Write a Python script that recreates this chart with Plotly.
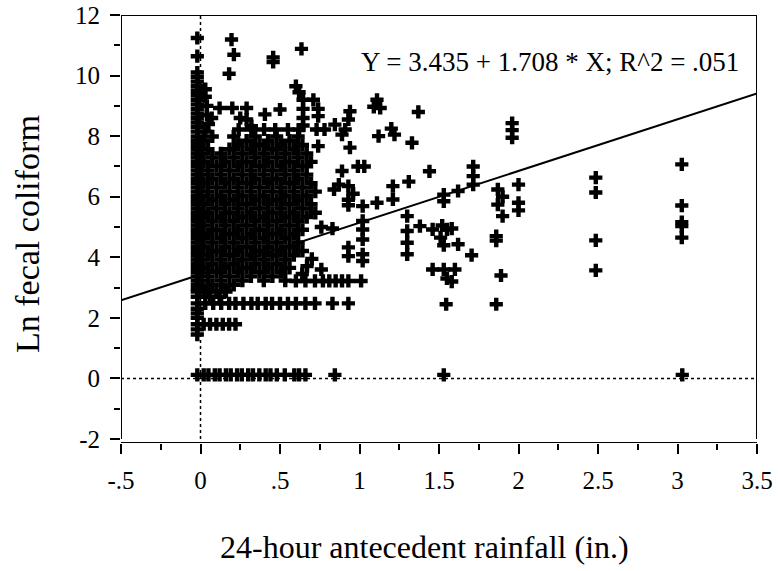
import plotly.graph_objects as go

# ---------------- data ----------------
eq_intercept = 3.435
eq_slope = 1.708
eq_text = "Y = 3.435 + 1.708 * X; R^2 = .051"

x_tick_vals = [-0.5, 0, 0.5, 1, 1.5, 2, 2.5, 3, 3.5]
x_tick_text = ["-.5", "0", ".5", "1", "1.5", "2", "2.5", "3", "3.5"]
x_minor_vals = [-0.25, 0.25, 0.75, 1.25, 1.75, 2.25, 2.75, 3.25]
y_tick_vals = [-2, 0, 2, 4, 6, 8, 10, 12]
y_tick_text = ["-2", "0", "2", "4", "6", "8", "10", "12"]
y_minor_vals = [-1, 1, 3, 5, 7, 9, 11]

# dense block of low-rainfall samples: one Ln value per row, rainfall values per row
core_ln = [2.95, 3.09, 3.23, 3.37, 3.51, 3.65, 3.79, 3.93, 4.07, 4.21, 4.35, 4.49,
           4.63, 4.77, 4.91, 5.05, 5.19, 5.33, 5.47, 5.61, 5.75, 5.89, 6.03, 6.17,
           6.31, 6.45, 6.59, 6.73, 6.87, 7.01, 7.15, 7.29, 7.43, 7.57, 7.71, 7.85, 7.99]
core_rain = [
    [-0.02, 0.02, 0.155],
    [-0.02, 0.074, 0.209],
    [-0.02, 0.0, 0.128, 0.263, 0.398, 0.533],
    [-0.02, 0.047, 0.182, 0.317, 0.452],
    [-0.02, 0.101, 0.236, 0.371, 0.506],
    [-0.02, 0.02, 0.155, 0.29, 0.425, 0.56],
    [-0.02, 0.074, 0.209, 0.344, 0.479],
    [-0.02, 0.0, 0.128, 0.263, 0.398, 0.533],
    [-0.02, 0.047, 0.182, 0.317, 0.452, 0.587],
    [-0.02, 0.101, 0.236, 0.371, 0.506, 0.641],
    [-0.02, 0.02, 0.155, 0.29, 0.425, 0.56],
    [-0.02, 0.074, 0.209, 0.344, 0.479, 0.614],
    [-0.02, 0.0, 0.128, 0.263, 0.398, 0.533],
    [-0.02, 0.047, 0.182, 0.317, 0.452, 0.587],
    [-0.02, 0.101, 0.236, 0.371, 0.506, 0.641],
    [-0.02, 0.02, 0.155, 0.29, 0.425, 0.56],
    [-0.02, 0.074, 0.209, 0.344, 0.479, 0.614],
    [-0.02, 0.0, 0.128, 0.263, 0.398, 0.533, 0.668],
    [-0.02, 0.047, 0.182, 0.317, 0.452, 0.587, 0.722],
    [-0.02, 0.101, 0.236, 0.371, 0.506, 0.641],
    [-0.02, 0.02, 0.155, 0.29, 0.425, 0.56, 0.695],
    [-0.02, 0.074, 0.209, 0.344, 0.479, 0.614],
    [-0.02, 0.0, 0.128, 0.263, 0.398, 0.533, 0.668],
    [-0.02, 0.047, 0.182, 0.317, 0.452, 0.587, 0.722],
    [-0.02, 0.101, 0.236, 0.371, 0.506, 0.641],
    [-0.02, 0.02, 0.155, 0.29, 0.425, 0.56, 0.695],
    [-0.02, 0.074, 0.209, 0.344, 0.479, 0.614],
    [-0.02, 0.0, 0.128, 0.263, 0.398, 0.533, 0.668],
    [-0.02, 0.047, 0.182, 0.317, 0.452, 0.587],
    [-0.02, 0.101, 0.236, 0.371, 0.506, 0.641],
    [-0.02, 0.02, 0.155, 0.29, 0.425, 0.56, 0.695],
    [-0.02, 0.074, 0.209, 0.344, 0.479, 0.614],
    [-0.02, 0.0, 0.128, 0.263, 0.398, 0.533, 0.668],
    [-0.02, 0.047, 0.182, 0.317, 0.452, 0.587],
    [-0.02, 0.236, 0.371, 0.506, 0.641],
    [-0.02, 0.02, 0.29, 0.425, 0.56],
    [-0.02, 0.074, 0.209, 0.344, 0.479, 0.614],
]

# dry-day column and points above the dense block
upper_rain = [-0.02, -0.02, -0.02, -0.02, -0.02, -0.02, -0.02, -0.02, -0.02, -0.02,
              -0.02, -0.02, -0.02, -0.02, -0.02, -0.02, 0.03, 0.03, 0.04, 0.04,
              0.05, 0.07, 0.03,
              0.195, 0.21, 0.18, 0.457, 0.457, 0.635, 0.60, 0.62, 0.645, 0.645,
              0.645, 0.645, 0.71, 0.74, 0.74, 0.73, 0.74,
              0.12, 0.20, 0.29, 0.405, 0.50, 0.29, 0.32, 0.25,
              0.24, 0.32, 0.40, 0.47, 0.55, 0.62, 0.78]
upper_ln = [11.24, 10.64, 10.1, 9.95, 9.8, 9.65, 9.5, 9.35, 9.2, 9.05,
            8.9, 8.75, 8.6, 8.45, 8.3, 8.15, 9.55, 9.3, 9.0, 8.7,
            8.4, 8.6, 8.15,
            11.19, 10.69, 10.06, 10.45, 10.6, 10.88, 9.65, 9.45, 9.2, 8.9,
            8.6, 8.35, 9.2, 8.9, 8.66, 8.22, 7.67,
            8.93, 8.93, 8.93, 8.72, 8.88, 8.55, 8.33, 8.6,
            8.22, 8.22, 8.22, 8.22, 8.22, 8.22, 8.22]

# scattered points between 0.75 and 1.45 in. of rain
mid_rain = [0.845, 0.94, 0.93, 0.91, 0.89, 0.94, 0.89, 0.87, 0.84, 0.99, 1.03,
            1.11, 1.09, 1.13, 1.12, 1.20, 1.22, 1.37, 1.33, 1.44, 1.31, 1.21,
            0.93, 0.96, 0.93, 0.93, 1.11, 1.02, 1.02, 1.02, 1.02, 1.02, 1.02,
            0.93, 0.93, 0.83, 0.76, 0.76, 0.67, 0.64, 0.70, 1.21, 1.30, 1.30,
            1.30, 1.30, 1.38]
mid_ln = [8.38, 8.82, 8.55, 8.22, 8.05, 7.62, 6.85, 6.4, 6.24, 7.0, 7.0,
          9.2, 8.97, 8.93, 8.0, 8.25, 8.05, 8.8, 7.78, 6.84, 6.5, 6.35,
          6.35, 6.1, 5.9, 5.72, 5.8, 5.69, 5.2, 4.92, 4.59, 4.1, 3.88,
          4.33, 4.04, 4.95, 5.0, 3.6, 3.71, 3.45, 3.95, 5.91, 5.36, 4.87,
          4.48, 4.1, 5.03]

# heavier rainfall (1.45 in. and more)
wet_rain = [1.46, 1.52, 1.55, 1.58, 1.51, 1.53, 1.62, 1.705, 1.46, 1.53, 1.60,
            1.55, 1.58, 1.545, 1.53, 1.53, 1.62, 1.715, 1.715, 1.715,
            1.86, 1.86, 1.89, 1.86, 1.87, 1.90, 1.87, 1.90, 1.96, 1.96, 1.96,
            2.0, 2.0, 2.0, 2.486, 2.486, 2.486, 2.486,
            3.027, 3.027, 3.027, 3.027, 3.027]
wet_ln = [4.92, 5.05, 4.92, 4.95, 4.65, 4.4, 4.43, 4.07, 3.6, 3.6, 3.6,
          3.3, 3.2, 2.45, 6.07, 5.85, 6.19, 7.0, 6.68, 6.4,
          4.7, 4.55, 3.4, 2.45, 6.24, 6.0, 5.74, 5.36, 8.43, 8.2, 7.95,
          6.4, 5.8, 5.55, 6.63, 6.14, 4.56, 3.57,
          7.07, 5.71, 5.16, 5.03, 4.65]

# horizontal rows at fixed low counts
row322_rain = [0.60, 0.66, 0.72, 0.77, 0.81, 0.85, 0.89, 0.93, 1.01]
row322_ln = [3.22, 3.22, 3.22, 3.22, 3.22, 3.22, 3.22, 3.22, 3.22]
low_rain = [-0.02, 0.03, 0.08, 0.13, 0.18, 0.22, 0.27, 0.32, 0.36, 0.41, 0.45,
            0.50, 0.55, 0.60, 0.66, 0.72, 0.83, 0.93,
            -0.02, 0.04, 0.10, 0.16, -0.02, 0.06, 0.12,
            -0.02, -0.02, -0.02,
            -0.02, 0.02, 0.06, 0.10, 0.14, 0.18, 0.22,
            -0.02, -0.02]
low_ln = [2.48, 2.48, 2.48, 2.48, 2.48, 2.48, 2.48, 2.48, 2.48, 2.48, 2.48,
          2.48, 2.48, 2.48, 2.48, 2.48, 2.48, 2.48,
          2.87, 2.87, 2.87, 2.87, 2.7, 2.7, 2.7,
          2.3, 2.15, 2.0,
          1.79, 1.79, 1.79, 1.79, 1.79, 1.79, 1.79,
          1.62, 1.45]

# samples with no detectable coliform (plotted at the zero line)
zero_rain = [-0.02, 0.02, 0.05, 0.09, 0.12, 0.16, 0.19, 0.23, 0.26, 0.30, 0.33,
             0.37, 0.41, 0.44, 0.48, 0.53, 0.59, 0.62, 0.66, 0.845, 1.53, 3.03]
zero_ln = [0.12, 0.12, 0.12, 0.12, 0.12, 0.12, 0.12, 0.12, 0.12, 0.12, 0.12,
           0.12, 0.12, 0.12, 0.12, 0.12, 0.12, 0.12, 0.12, 0.12, 0.12, 0.12]

x_range = [-0.5, 3.5]
y_min_tick = -2
y_max_tick = 12
y_range = [-2.13, 12]   # x axis sits slightly below the -2 tick

# ---------------- build ----------------
xs, ys = [], []
for lnv, row in zip(core_ln, core_rain):
    for r in row:
        xs.append(r)
        ys.append(lnv)
for rx, ry in [(upper_rain, upper_ln), (mid_rain, mid_ln), (wet_rain, wet_ln),
               (row322_rain, row322_ln), (low_rain, low_ln), (zero_rain, zero_ln)]:
    xs.extend(rx)
    ys.extend(ry)

FONT = "Liberation Serif"

fig = go.Figure()
fig.add_trace(go.Scatter(
    x=xs, y=ys, mode="markers",
    marker=dict(symbol="cross", size=11, color="black", line=dict(width=0)),
    hoverinfo="skip",
))
fig.add_trace(go.Scatter(
    x=x_range,
    y=[eq_intercept + eq_slope * x_range[0], eq_intercept + eq_slope * x_range[1]],
    mode="lines", line=dict(color="black", width=2), hoverinfo="skip",
))
# frame: left axis, top and right borders; bottom axis just below the -2 tick
fig.add_trace(go.Scatter(
    x=[x_range[0], x_range[0], x_range[1], x_range[1], None, x_range[0], x_range[1]],
    y=[y_min_tick, y_max_tick, y_max_tick, y_min_tick, None, y_range[0], y_range[0]],
    mode="lines", line=dict(color="black", width=2), cliponaxis=False,
    hoverinfo="skip",
))

fig.add_shape(type="line", xref="x", yref="y", x0=0, x1=0, y0=y_min_tick, y1=y_max_tick,
              line=dict(color="black", width=1.5, dash="dot"), layer="below")
fig.add_shape(type="line", xref="x", yref="y", x0=x_range[0], x1=x_range[1], y0=0, y1=0,
              line=dict(color="black", width=1.5, dash="dot"), layer="below")

fig.add_annotation(text=eq_text, xref="paper", yref="paper", x=0.6745, y=0.89,
                   xanchor="center", yanchor="middle", showarrow=False,
                   font=dict(family=FONT, size=27, color="black"))
fig.add_annotation(text="24-hour antecedent rainfall (in.)", xref="paper", yref="paper",
                   x=0.477, y=-0.243, xanchor="center", yanchor="middle", showarrow=False,
                   font=dict(family=FONT, size=32, color="black"))
fig.add_annotation(text="Ln fecal coliform", xref="paper", yref="paper",
                   x=-0.148, y=0.488, xanchor="center", yanchor="middle", showarrow=False,
                   textangle=-90, font=dict(family=FONT, size=34, color="black"))

fig.update_layout(
    width=778, height=571,
    margin=dict(l=121, r=21, t=15, b=128, autoexpand=False),
    plot_bgcolor="white", paper_bgcolor="white",
    showlegend=False,
    hovermode=False,
    font=dict(family=FONT, color="black"),
    xaxis=dict(
        range=x_range, automargin=False,
        showline=False, showgrid=False, zeroline=False,
        ticks="outside", ticklen=10, tickwidth=2, tickcolor="black",
        tickmode="array", tickvals=x_tick_vals, ticktext=x_tick_text,
        tickfont=dict(family=FONT, size=25, color="black"),
        ticklabelstandoff=5,
        minor=dict(tickmode="array", tickvals=x_minor_vals, ticks="outside",
                   ticklen=6, tickwidth=2, tickcolor="black"),
    ),
    yaxis=dict(
        range=y_range, automargin=False,
        showline=False, showgrid=False, zeroline=False,
        ticks="outside", ticklen=10, tickwidth=2, tickcolor="black",
        tickmode="array", tickvals=y_tick_vals, ticktext=y_tick_text,
        tickfont=dict(family=FONT, size=25, color="black"),
        ticklabelstandoff=5,
        minor=dict(tickmode="array", tickvals=y_minor_vals, ticks="outside",
                   ticklen=6, tickwidth=2, tickcolor="black"),
    ),
)

fig.write_html("out.html", config={"displayModeBar": False, "staticPlot": True},
               post_script="document.body.style.margin='0px';")
